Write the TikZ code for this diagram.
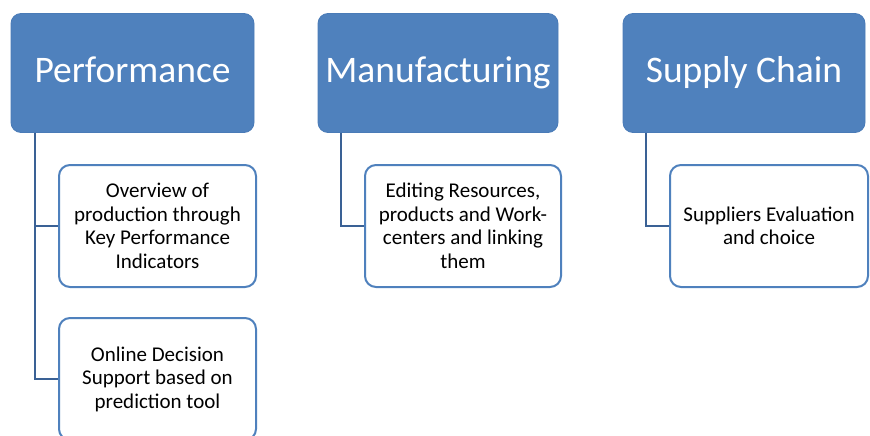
\documentclass[tikz,border=0pt]{standalone}
\usepackage{fontspec}
\setmainfont{Carlito}
\definecolor{hdrblue}{HTML}{4F81BD}
\definecolor{hdredge}{HTML}{4A7BB7}
\definecolor{linkblue}{HTML}{3A6195}
\begin{document}
\begin{tikzpicture}[x=1pt,y=-1pt,
  header/.style={draw=hdredge,line width=0.8pt,fill=hdrblue,rounded corners=10pt,
    minimum height=119pt,text=white,font=\fontsize{37.5}{40}\selectfont,inner sep=0pt,
    text height=26pt,text depth=7pt},
  child/.style={draw=hdrblue,line width=2pt,fill=white,rounded corners=11pt,
    minimum height=122pt,align=center,font=\fontsize{21}{23.5}\selectfont,inner sep=0pt},
  link/.style={draw=linkblue,line width=2pt}]
\useasboundingbox (0,0) rectangle (870,436);
\clip (0,0) rectangle (870,436);
\node[header,minimum width=243pt] (perf) at (132.5,73) {Performance};
\node[header,minimum width=240pt] (manu) at (438,73) {Manufacturing};
\node[header,minimum width=242pt] (supp) at (744,73) {Supply Chain};
\node[child,minimum width=197pt] (c1) at (157.5,226) {Overview of\\production through\\Key Performance\\Indicators};
\node[child,minimum width=197pt] (c2) at (157.5,379) {Online Decision\\Support based on\\prediction tool};
\node[child,minimum width=196pt] (m1) at (463,226) {Editing Resources,\\products and Work-\\centers and linking\\them};
\node[child,minimum width=198pt] (s1) at (769,226) {Suppliers Evaluation\\and choice};
\coordinate (pa) at ([xshift=24pt]perf.south west);
\coordinate (ma) at ([xshift=23pt]manu.south west);
\coordinate (sa) at ([xshift=23pt]supp.south west);
\draw[link] (pa) |- (c1.west);
\draw[link] (pa) |- (c2.west);
\draw[link] (ma) |- (m1.west);
\draw[link] (sa) |- (s1.west);
\end{tikzpicture}
\end{document}
